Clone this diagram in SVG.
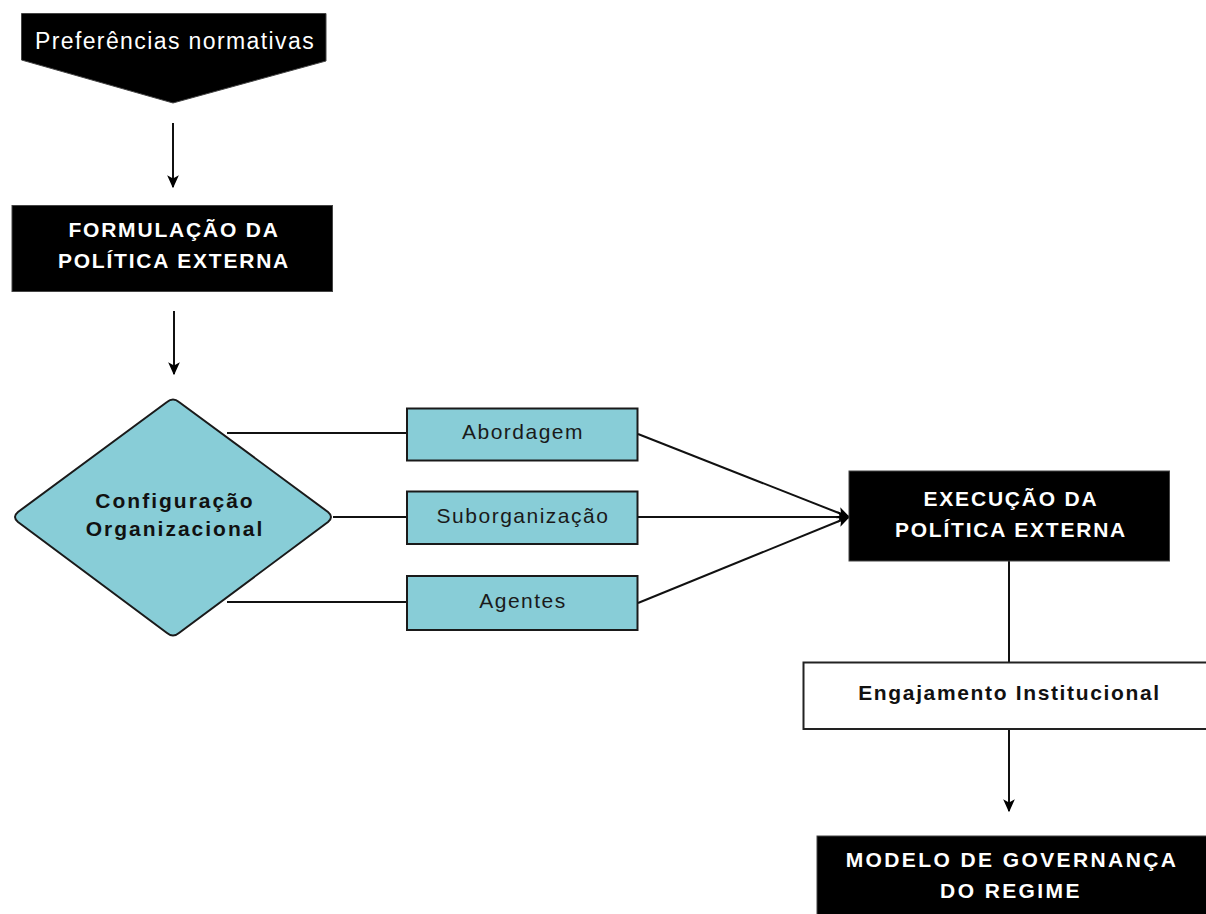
<svg xmlns="http://www.w3.org/2000/svg" width="1206" height="914" viewBox="0 0 1206 914">
<defs>
<marker id="ah" markerUnits="userSpaceOnUse" markerWidth="13" markerHeight="13" viewBox="0 0 10 10" refX="9" refY="5" orient="auto">
<path d="M0,0.5 L10,5 L0,9.5 L2.5,5 z" fill="#000"/>
</marker>
<style>
.dark{fill:#000;stroke:#444;stroke-width:1}
.teal{fill:#88CDD7;stroke:#1a1a1a;stroke-width:2}
.white{fill:#fff;stroke:#222;stroke-width:2}
.wt{fill:#fff;font-family:"Liberation Sans",Arial,sans-serif;font-weight:bold;font-size:21px;letter-spacing:1.8px;text-anchor:middle}
.wr{fill:#fff;font-family:"Liberation Sans",Arial,sans-serif;font-size:23px;letter-spacing:1.4px;text-anchor:middle}
.bt{fill:#1a1a1a;font-family:"Liberation Sans",Arial,sans-serif;font-size:21px;letter-spacing:1.5px;text-anchor:middle}
.bb{fill:#111;font-family:"Liberation Sans",Arial,sans-serif;font-weight:bold;font-size:21px;letter-spacing:2px;text-anchor:middle}
.ln{fill:none;stroke:#111;stroke-width:2}
</style>
</defs>
<rect width="1206" height="914" fill="#fff"/>
<g id="connectors">
<line class="ln" x1="173" y1="123" x2="173" y2="187" marker-end="url(#ah)"/>
<line class="ln" x1="174" y1="311" x2="174" y2="374" marker-end="url(#ah)"/>
<line class="ln" x1="227" y1="433" x2="407" y2="433"/>
<line class="ln" x1="333" y1="517" x2="407" y2="517"/>
<line class="ln" x1="227" y1="602" x2="407" y2="602"/>
<line class="ln" x1="638" y1="434" x2="849" y2="517" marker-end="url(#ah)"/>
<line class="ln" x1="638" y1="517" x2="849" y2="517" marker-end="url(#ah)"/>
<line class="ln" x1="638" y1="603" x2="849" y2="517" marker-end="url(#ah)"/>
<line class="ln" x1="1009" y1="561" x2="1009" y2="663"/>
<line class="ln" x1="1009" y1="729" x2="1009" y2="811" marker-end="url(#ah)"/>
</g>
<g id="preferencias">
<polygon class="dark" points="21.5,13.5 326,13.5 326,61 173,103 21.5,60"/>
<text class="wr" x="175" y="48.5">Preferências normativas</text>
</g>
<g id="formulacao">
<rect class="dark" x="12" y="205.5" width="320.5" height="86"/>
<text class="wt" x="174" y="236.5">FORMULAÇÃO DA</text>
<text class="wt" x="174" y="268">POLÍTICA EXTERNA</text>
</g>
<g id="configuracao">
<path class="teal" d="M167,402 Q173,397 179,402 L328,512 Q334,517 328,522 L179,633 Q173,638 167,633 L18,522 Q12,517 18,512 Z"/>
<text class="bb" x="175" y="508">Configuração</text>
<text class="bb" x="175" y="536">Organizacional</text>
</g>
<g id="abordagem">
<rect class="teal" x="407" y="408.5" width="230.5" height="52"/>
<text class="bt" x="523" y="439">Abordagem</text>
</g>
<g id="suborganizacao">
<rect class="teal" x="407" y="491.5" width="230.5" height="52.5"/>
<text class="bt" x="523" y="522.5">Suborganização</text>
</g>
<g id="agentes">
<rect class="teal" x="407" y="576" width="230.5" height="54"/>
<text class="bt" x="523" y="607.5">Agentes</text>
</g>
<g id="execucao">
<rect class="dark" x="849" y="471" width="320.5" height="90"/>
<text class="wt" x="1011" y="505.5">EXECUÇÃO DA</text>
<text class="wt" x="1011" y="537">POLÍTICA EXTERNA</text>
</g>
<g id="engajamento">
<rect class="white" x="803.5" y="662.5" width="410" height="66.5"/>
<text class="bb" x="1009.5" y="700" style="letter-spacing:1.65px">Engajamento Institucional</text>
</g>
<g id="modelo">
<rect class="dark" x="817" y="836" width="400" height="90"/>
<text class="wt" x="1012" y="867" style="letter-spacing:2.4px">MODELO DE GOVERNANÇA</text>
<text class="wt" x="1011" y="898" style="letter-spacing:2.4px">DO REGIME</text>
</g>
</svg>
